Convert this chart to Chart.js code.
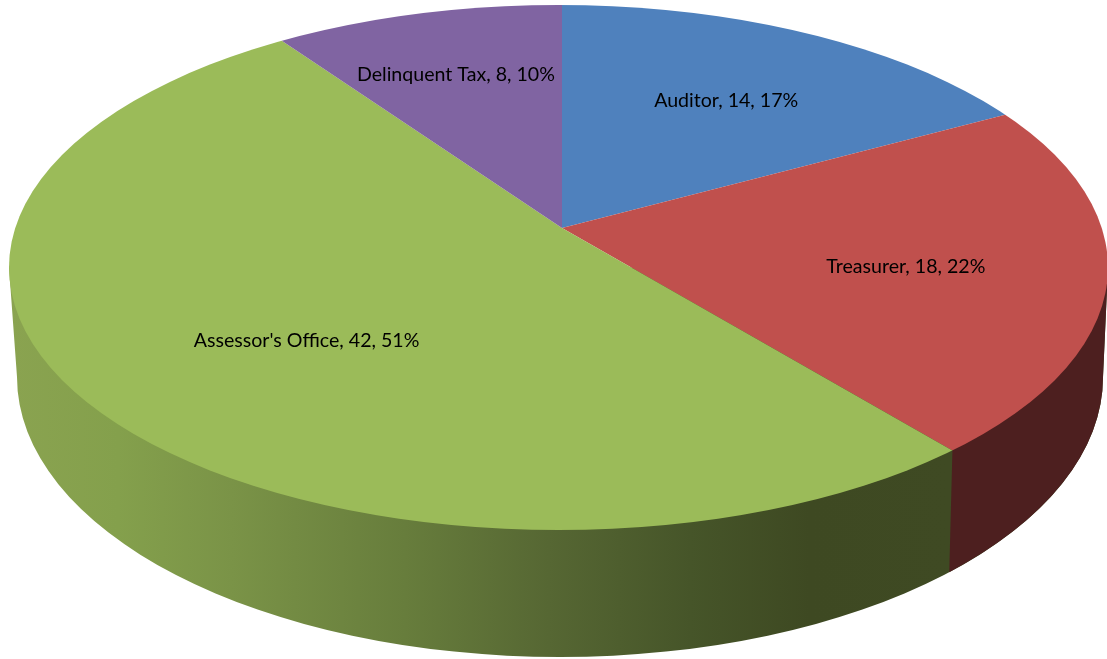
<!DOCTYPE html>
<html>
<head>
<meta charset="utf-8">
<style>
    html, body { margin: 0; padding: 0; background: #fff; overflow: hidden; }
    canvas { display: block; }
</style>
<script src="https://cdn.jsdelivr.net/npm/chart.js@4/dist/chart.umd.min.js"></script>
</head>
<body>
<canvas id="myChart" width="1107" height="659"></canvas>
<script>
const departments = ['Auditor', 'Treasurer', "Assessor's Office", 'Delinquent Tax'];
const staff = [14, 18, 42, 8];
const sliceColors = ['#4f81bd', '#c0504d', '#9bbb59', '#8064a2'];

// the 3d look: where the pie tip sits and how flat it is
const tip = { x: 562, y: 228 };
const tilt = 0.47;
const topFace = { x: 558.5, y: 267.5, rx: 549.5, ry: 262.5 };
const bottomFace = { x: 560, y: 377, rx: 543, ry: 280 };
// label placement, along the middle of each slice and then a small shift
const labelReach = 335;
const labelShift = [[-7, 8], [15, 9], [11, 17], [-5, -3]];

// point where a slice edge leaves the top ellipse
function edgeOnTop(angle) {
    let dx = Math.cos(angle) / topFace.rx;
    let dy = tilt * Math.sin(angle) / topFace.ry;
    let ox = (tip.x - topFace.x) / topFace.rx;
    let oy = (tip.y - topFace.y) / topFace.ry;
    let a = dx * dx + dy * dy;
    let b = 2 * (ox * dx + oy * dy);
    let c = ox * ox + oy * oy - 1;
    let t = (-b + Math.sqrt(b * b - 4 * a * c)) / (2 * a);
    return { nx: ox + t * dx, ny: oy + t * dy };
}

const sideWall = {
    id: 'sideWall',
    beforeDatasetsDraw(chart) {
        let ctx = chart.ctx;
        let arcs = chart.getDatasetMeta(0).data;

        // green wall, whole outline
        let green = ctx.createLinearGradient(10, 0, 950, 0);
        green.addColorStop(0, '#8aa350');
        green.addColorStop(0.115, '#84a04c');
        green.addColorStop(0.236, '#7a9347');
        green.addColorStop(0.42, '#677d3c');
        green.addColorStop(0.573, '#566733');
        green.addColorStop(0.724, '#465529');
        green.addColorStop(0.85, '#3e4922');
        green.addColorStop(1, '#3f4a23');
        ctx.save();
        ctx.fillStyle = green;
        ctx.beginPath();
        ctx.ellipse(bottomFace.x, bottomFace.y, bottomFace.rx, bottomFace.ry, 0, 0, Math.PI);
        ctx.lineTo(topFace.x - topFace.rx, topFace.y);
        ctx.lineTo(topFace.x + topFace.rx, topFace.y);
        ctx.closePath();
        ctx.fill();

        // red wall, from the right side to the treasurer / assessor edge
        let edge = edgeOnTop(arcs[1].endAngle);
        let lowAngle = Math.atan2(edge.ny, edge.nx);
        ctx.fillStyle = '#4d1f1f';
        ctx.beginPath();
        ctx.ellipse(bottomFace.x, bottomFace.y, bottomFace.rx, bottomFace.ry, 0, 0, lowAngle);
        ctx.lineTo(topFace.x + edge.nx * topFace.rx, topFace.y + edge.ny * topFace.ry);
        ctx.lineTo(topFace.x + topFace.rx, topFace.y);
        ctx.closePath();
        ctx.fill();
        ctx.restore();

        // flatten the pie and cut it to the top ellipse
        let area = chart.chartArea;
        ctx.save();
        ctx.beginPath();
        ctx.ellipse(topFace.x, topFace.y, topFace.rx, topFace.ry, 0, 0, Math.PI * 2);
        ctx.clip();
        ctx.translate(tip.x, tip.y);
        ctx.scale(2, 2 * tilt);
        ctx.translate(-(area.left + area.right) / 2, -(area.top + area.bottom) / 2);
    },
    afterDatasetsDraw(chart) {
        chart.ctx.restore();
    }
};

const sliceLabels = {
    id: 'sliceLabels',
    afterDraw(chart) {
        let ctx = chart.ctx;
        let total = staff.reduce((sum, val) => sum + val, 0);
        ctx.save();
        ctx.font = '19.6px Lato';
        ctx.fillStyle = '#000';
        ctx.textAlign = 'center';
        ctx.textBaseline = 'middle';
        chart.getDatasetMeta(0).data.forEach((arc, i) => {
            let mid = (arc.startAngle + arc.endAngle) / 2;
            let x = tip.x + labelReach * Math.cos(mid) + labelShift[i][0];
            let y = tip.y + labelReach * tilt * Math.sin(mid) + labelShift[i][1];
            let pct = Math.round(staff[i] / total * 100);
            ctx.fillText(`${departments[i]}, ${staff[i]}, ${pct}%`, x, y);
        });
        ctx.restore();
    }
};

new Chart(document.getElementById('myChart').getContext('2d'), {
    type: 'pie',
    data: {
        labels: departments,
        datasets: [{
            data: staff,
            backgroundColor: sliceColors,
            borderWidth: 0,
            clip: false
        }]
    },
    options: {
        responsive: false,
        animation: false,
        events: [],
        layout: { padding: 0 },
        plugins: {
            legend: { display: false },
            tooltip: { enabled: false }
        }
    },
    plugins: [sideWall, sliceLabels]
});
</script>
</body>
</html>
